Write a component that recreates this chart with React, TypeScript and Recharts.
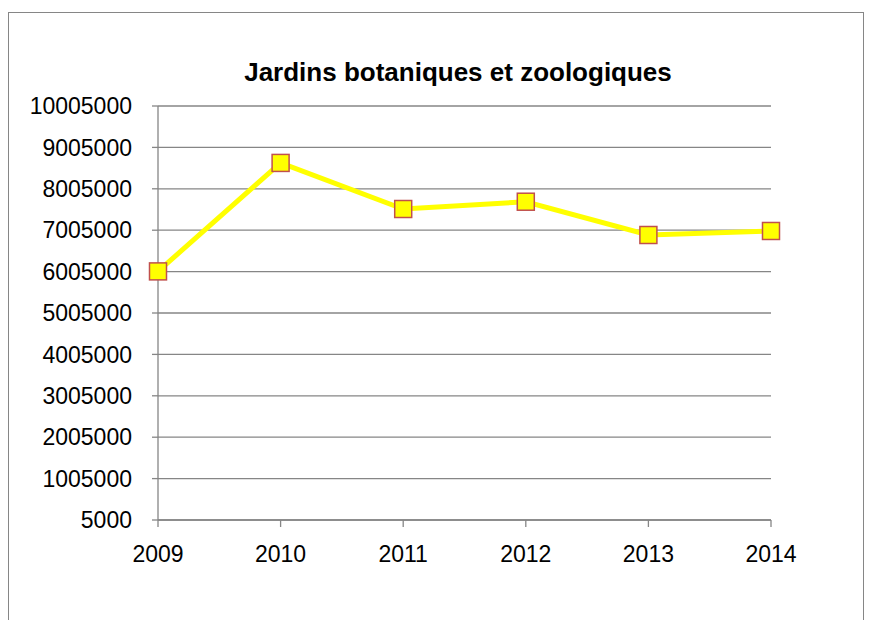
import { LineChart, Line, XAxis, YAxis, CartesianGrid } from 'recharts';

const years = ['2009', '2010', '2011', '2012', '2013', '2014'];
const visitors = [6010000, 8630000, 7517000, 7693000, 6889000, 6986000];
const yTicks = [
  5000, 1005000, 2005000, 3005000, 4005000, 5005000, 6005000, 7005000, 8005000, 9005000, 10005000,
];

const data = years.map((year, i) => ({ year, value: visitors[i] }));

const AXIS = '#868686';
const FONT = '"Liberation Sans", Arial, sans-serif';

function SquareDot(props: { cx?: number; cy?: number; index?: number }) {
  const { cx, cy, index } = props;
  if (cx == null || cy == null) return null;
  const s = 17;
  return (
    <rect
      key={`dot-${index}`}
      x={cx - s / 2}
      y={cy - s / 2}
      width={s}
      height={s}
      fill="#ffff00"
      stroke="#c0504d"
      strokeWidth={1.5}
    />
  );
}

export default function App() {
  return (
    <div style={{ paddingTop: 4 }}>
      <div
        style={{
          position: 'relative',
          width: 856,
          height: 620,
          boxSizing: 'border-box',
          border: `1px solid ${AXIS}`,
          background: '#fff',
          fontFamily: FONT,
        }}
      >
        <div
          style={{
            position: 'absolute',
            left: 149,
            width: 600,
            top: 44,
            textAlign: 'center',
            fontSize: 26,
            fontWeight: 'bold',
            lineHeight: '30px',
            color: '#000',
          }}
        >
          Jardins botaniques et zoologiques
        </div>
        <div style={{ position: 'absolute', left: 0, top: 0 }}>
          <LineChart width={854} height={607} data={data} margin={{ top: 93, right: 92, left: 0, bottom: 60 }}>
            <CartesianGrid vertical={false} stroke={AXIS} strokeWidth={1.3} />
            <XAxis
              dataKey="year"
              height={40}
              stroke={AXIS}
              strokeWidth={1.3}
              tickSize={7}
              tickMargin={19}
              tick={{ fontSize: 23, fill: '#000', fontFamily: FONT }}
              interval={0}
            />
            <YAxis
              width={149}
              domain={[5000, 10005000]}
              ticks={yTicks}
              interval={0}
              stroke={AXIS}
              strokeWidth={1.3}
              tickSize={6}
              tickMargin={20}
              tick={{ fontSize: 23, fill: '#000', fontFamily: FONT }}
            />
            <Line
              type="linear"
              dataKey="value"
              stroke="#ffff00"
              strokeWidth={5}
              dot={SquareDot}
              activeDot={false}
              isAnimationActive={false}
            />
          </LineChart>
        </div>
      </div>
    </div>
  );
}
